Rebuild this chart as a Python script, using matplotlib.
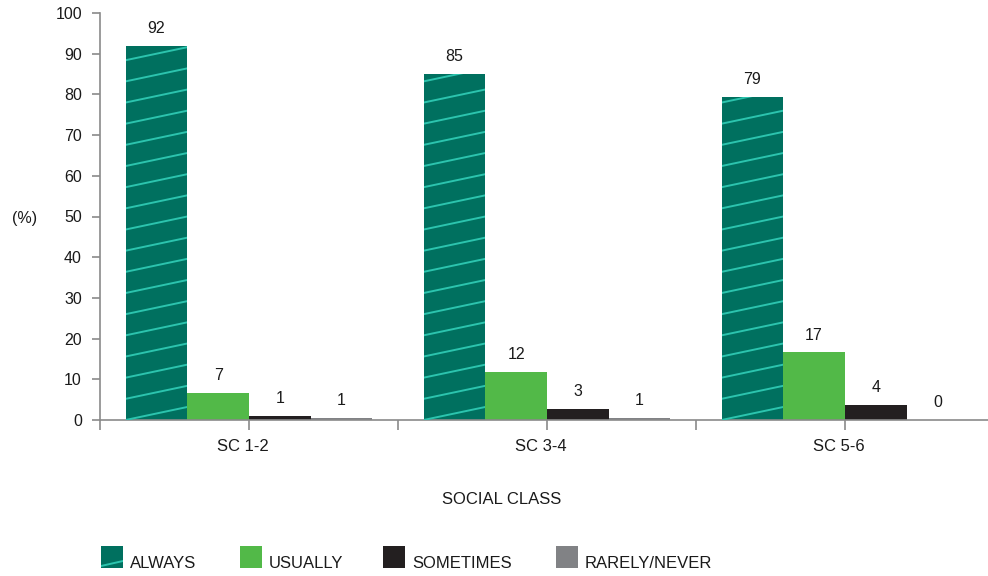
import matplotlib
matplotlib.use("Agg")
import matplotlib.pyplot as plt
import numpy as np
from matplotlib.patches import Rectangle

plt.rcParams['font.family'] = ['Liberation Sans', 'DejaVu Sans']

# Survey results by social class (%)
categories = ['SC 1-2', 'SC 3-4', 'SC 5-6']
series_names = ['ALWAYS', 'USUALLY', 'SOMETIMES', 'RARELY/NEVER']
always = [91.9, 85.1, 79.4]
usually = [6.6, 11.8, 16.6]
sometimes = [1.0, 2.7, 3.7]
rarely = [0.6, 0.6, 0.0]
y_ticks = [0, 10, 20, 30, 40, 50, 60, 70, 80, 90, 100]

TEAL = '#00705F'
HATCH = '#2CC4AE'
GREEN = '#52B948'
BLACK = '#231F20'
GREY = '#818285'
AXIS = '#8A8A8A'
TEXT = '#1A1A1A'

fig = plt.figure(figsize=(9.88, 5.76), dpi=100)
ax = fig.add_axes([100 / 988, 156 / 576, 888 / 988, 407 / 576])

x = np.arange(len(categories))
bar_w = 0.207
colors = [TEAL, GREEN, BLACK, GREY]
series = [always, usually, sometimes, rarely]
containers = []
for i, (vals, col) in enumerate(zip(series, colors)):
    offs = (i - 1.5) * bar_w
    bc = ax.bar(x + offs, vals, width=bar_w, color=col, linewidth=0, zorder=2)
    containers.append(bc)
    for xi, v in zip(x + offs, vals):
        ax.text(xi, v + 2.4, f'{v:.0f}', ha='center', va='bottom',
                fontsize=11.5, color=TEXT)

# light diagonal stripes on the ALWAYS bars
step, rise = 5.2, 3.2
for rect in containers[0]:
    x0, w, h = rect.get_x(), rect.get_width(), rect.get_height()
    for y0 in np.arange(-step, h + step, step):
        ln, = ax.plot([x0, x0 + w], [y0, y0 + rise], color=HATCH, lw=1.4,
                      zorder=3, solid_capstyle='butt')
        ln.set_clip_path(rect)

ax.set_yticks(y_ticks)
ax.set_xticks(np.arange(-0.5, 3.0, 0.5))
ax.set_xticklabels([])
ax.set_xlim(-0.5, 2.48)
ax.set_ylim(0, 100)
for xi, name in zip(x, categories):
    ax.text(xi - 0.02, -6.6, name, ha='center', va='center', fontsize=12, color=TEXT)

for s in ['top', 'right']:
    ax.spines[s].set_visible(False)
for s in ['left', 'bottom']:
    ax.spines[s].set_color(AXIS)
    ax.spines[s].set_linewidth(1.2)
ax.tick_params(axis='y', colors=AXIS, length=6, width=1.2, labelcolor=TEXT,
               labelsize=11.5, pad=7)
ax.tick_params(axis='x', colors=AXIS, length=7, width=1.2)

fig.text(25 / 988, 1 - 218 / 576, '(%)', ha='center', va='center', fontsize=11.5, color=TEXT)
fig.text(502 / 988, 1 - 499 / 576, 'SOCIAL CLASS', ha='center', va='center',
         fontsize=12, color=TEXT)

# legend row
leg_x = [101, 240, 383, 556]
for lx, col, name in zip(leg_x, colors, series_names):
    r = Rectangle((lx / 988, 1 - 568 / 576), 22 / 988, 22 / 576, transform=fig.transFigure,
                  facecolor=col, edgecolor='none')
    fig.add_artist(r)
    if col == TEAL:
        ln = plt.Line2D([lx / 988, (lx + 22) / 988], [1 - 566 / 576, 1 - 561 / 576],
                        transform=fig.transFigure, color=HATCH, lw=1.4)
        ln.set_clip_path(r)
        fig.add_artist(ln)
    fig.text((lx + 29) / 988, 1 - 568 / 576, name, ha='left', va='baseline',
             fontsize=12, color=TEXT)

fig.savefig('out.png', dpi=100)
